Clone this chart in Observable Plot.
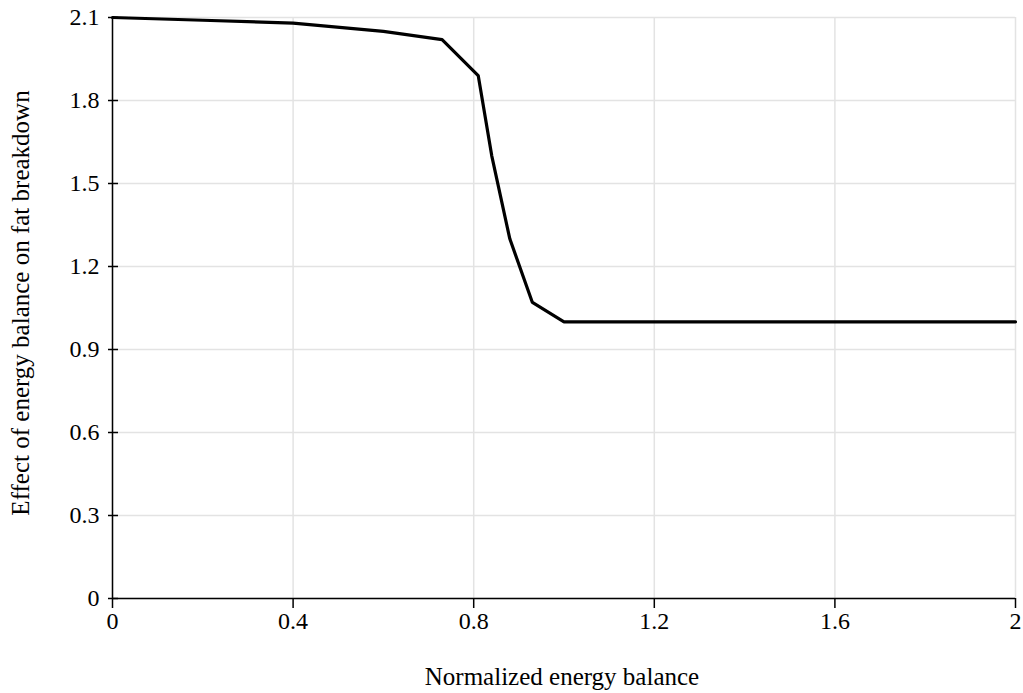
<!DOCTYPE html>
<html>
<head>
<meta charset="utf-8">
<script src="https://cdn.jsdelivr.net/npm/d3@7"></script>
<script src="https://cdn.jsdelivr.net/npm/@observablehq/plot@0.6"></script>
<style>
  html, body { margin: 0; padding: 0; background: #fff; }
  #chart svg { display: block; }
</style>
</head>
<body>
<div id="chart"></div>
<script>
const energyBalance = [0, 0.2, 0.4, 0.6, 0.73, 0.81, 0.84, 0.88, 0.93, 1.0, 1.2, 1.4, 1.6, 1.8, 2.0];
const fatEffect     = [2.1, 2.09, 2.08, 2.05, 2.02, 1.89, 1.6, 1.3, 1.07, 1.0, 1.0, 1.0, 1.0, 1.0, 1.0];
const xTicks = [0, 0.4, 0.8, 1.2, 1.6, 2];
const yTicks = [0, 0.3, 0.6, 0.9, 1.2, 1.5, 1.8, 2.1];
const xTitle = "Normalized energy balance";
const yTitle = "Effect of energy balance on fat breakdown";

const data = energyBalance.map((x, i) => ({x, y: fatEffect[i]}));
const font = "'Liberation Serif', 'Times New Roman', serif";

const W = 1023, H = 693;
const chart = Plot.plot({
  width: W,
  height: H,
  marginLeft: 112,
  marginRight: 8,
  marginTop: 17,
  marginBottom: 95,
  style: {fontFamily: font, fontSize: "24px", color: "#000", background: "#fff"},
  x: {domain: [0, 2]},
  y: {domain: [0, 2.1]},
  marks: [
    Plot.gridX(xTicks, {stroke: "#e3e3e3", strokeOpacity: 1, strokeWidth: 1.5}),
    Plot.gridY(yTicks, {stroke: "#e3e3e3", strokeOpacity: 1, strokeWidth: 1.5}),
    Plot.axisX(xTicks, {tickSize: 0, tickPadding: 13, tickFormat: d => String(d), label: null, fontSize: 24}),
    Plot.axisY(yTicks, {tickSize: 0, tickPadding: 13, tickFormat: d => String(d), label: null, fontSize: 24}),
    Plot.ruleX([0], {stroke: "#000", strokeWidth: 1.5}),
    Plot.ruleY([0], {stroke: "#000", strokeWidth: 1.5}),
    Plot.axisX(xTicks, {tickSize: 10, insetTop: 6, tickFormat: () => "", label: null, strokeWidth: 1.5}),
    Plot.axisY(yTicks, {tickSize: 10, insetLeft: 6, tickFormat: () => "", label: null, strokeWidth: 1.5}),
    Plot.line(data, {x: "x", y: "y", stroke: "#000", strokeWidth: 3.2, strokeLinejoin: "miter"})
  ]
});

const svg = d3.select(chart);
svg.append("text")
  .attr("x", 562).attr("y", 685)
  .attr("text-anchor", "middle")
  .style("font-family", font).style("font-size", "25px").attr("fill", "#000")
  .text(xTitle);
svg.append("text")
  .attr("transform", "translate(29,303) rotate(-90)")
  .attr("text-anchor", "middle")
  .style("font-family", font).style("font-size", "25px").attr("fill", "#000")
  .text(yTitle);

document.getElementById("chart").appendChild(chart);
</script>
</body>
</html>
